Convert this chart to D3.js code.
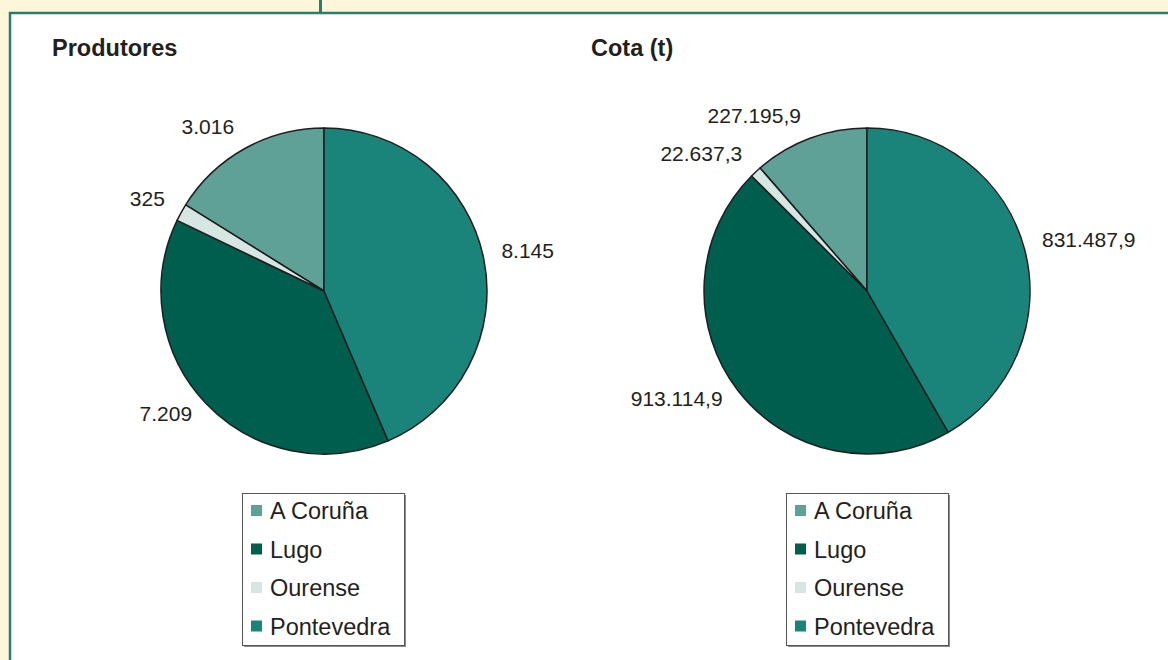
<!DOCTYPE html>
<html>
<head>
<meta charset="utf-8">
<script src="https://cdn.jsdelivr.net/npm/d3@7"></script>
<style>
  body { margin: 0; background: #fef6da; }
  svg { display: block; font-family: "Liberation Sans", Arial, sans-serif; }
</style>
</head>
<body>
<script>
// categories and series
let provincias = ["A Coruña", "Lugo", "Ourense", "Pontevedra"];
let produtores = [3016, 7209, 325, 8145];
let cota = [227195.9, 913114.9, 22637.3, 831487.9];
let produtoresLabels = ["3.016", "7.209", "325", "8.145"];
let cotaLabels = ["227.195,9", "913.114,9", "22.637,3", "831.487,9"];
let colores = ["#5fa097", "#005e4f", "#d5e6e3", "#1a847a"];
// drawing order clockwise from 12 o'clock
let sliceOrder = ["Pontevedra", "Lugo", "Ourense", "A Coruña"];

let svgWidth = 1168, svgHeight = 660;
let green = "#2b7c6c";

let svg = d3.select("body").append("svg")
    .attr("width", svgWidth)
    .attr("height", svgHeight);

// panel and frame
svg.append("rect")
    .attr("x", 10).attr("y", 13)
    .attr("width", svgWidth).attr("height", svgHeight)
    .attr("fill", "#ffffff")
    .attr("stroke", green)
    .attr("stroke-width", 2.5);

svg.append("line")
    .attr("x1", 320.5).attr("x2", 320.5)
    .attr("y1", 0).attr("y2", 13)
    .attr("stroke", green)
    .attr("stroke-width", 3);

let colorScale = d3.scaleOrdinal().domain(provincias).range(colores);

let charts = [
    { title: "Produtores", values: produtores, labels: produtoresLabels, cx: 324, cy: 291, titleX: 52, legendX: 242 },
    { title: "Cota (t)", values: cota, labels: cotaLabels, cx: 867, cy: 291, titleX: 591, legendX: 786 }
];

let radius = 163;

charts.forEach(function(c) {
    let data = provincias.map((p, i) => ({ name: p, value: c.values[i], label: c.labels[i] }));

    svg.append("text")
        .attr("x", c.titleX)
        .attr("y", 56)
        .attr("font-size", 23.5)
        .attr("font-weight", "bold")
        .attr("fill", "#231f20")
        .text(c.title);

    let pie = d3.pie()
        .value(d => d.value)
        .sort((a, b) => sliceOrder.indexOf(a.name) - sliceOrder.indexOf(b.name));

    let arc = d3.arc().innerRadius(0).outerRadius(radius);

    let g = svg.append("g")
        .attr("transform", `translate(${c.cx}, ${c.cy})`);

    let arcs = pie(data);

    g.selectAll("path")
        .data(arcs)
        .enter()
        .append("path")
        .attr("d", arc)
        .attr("fill", d => colorScale(d.data.name))
        .attr("stroke", "#1e1e1e")
        .attr("stroke-width", 1.5)
        .attr("stroke-linejoin", "round");

    // labels just outside the rim
    g.selectAll(".lbl")
        .data(arcs)
        .enter()
        .append("text")
        .attr("class", "lbl")
        .attr("font-size", 21)
        .attr("fill", "#231f20")
        .each(function(d) {
            let a = (d.startAngle + d.endAngle) / 2;
            let dx = Math.sin(a), dy = -Math.cos(a);
            let r = radius + 14;
            d3.select(this)
                .attr("x", dx * r + (dx >= 0 ? 4 : -4))
                .attr("y", dy * r + dy * 6 - 4)
                .attr("dy", "0.35em")
                .attr("text-anchor", dx >= 0 ? "start" : "end")
                .text(d.data.label);
        });

    // legend
    let legend = svg.append("g")
        .attr("transform", `translate(${c.legendX}, 493)`);

    legend.append("rect")
        .attr("x", 2).attr("y", 2)
        .attr("width", 162).attr("height", 152)
        .attr("fill", "#8a8a8a");
    legend.append("rect")
        .attr("x", 0.5).attr("y", 0.5)
        .attr("width", 162).attr("height", 152)
        .attr("fill", "#ffffff")
        .attr("stroke", "#555")
        .attr("stroke-width", 1);

    let item = legend.selectAll(".item")
        .data(provincias)
        .enter()
        .append("g")
        .attr("class", "item")
        .attr("transform", (d, i) => `translate(0, ${18 + i * 38.5})`);

    item.append("rect")
        .attr("x", 9).attr("y", -6)
        .attr("width", 11).attr("height", 11)
        .attr("fill", d => colorScale(d));

    item.append("text")
        .attr("x", 28)
        .attr("y", 0)
        .attr("dy", "0.35em")
        .attr("font-size", 23.5)
        .attr("fill", "#231f20")
        .text(d => d);
});
</script>
</body>
</html>
